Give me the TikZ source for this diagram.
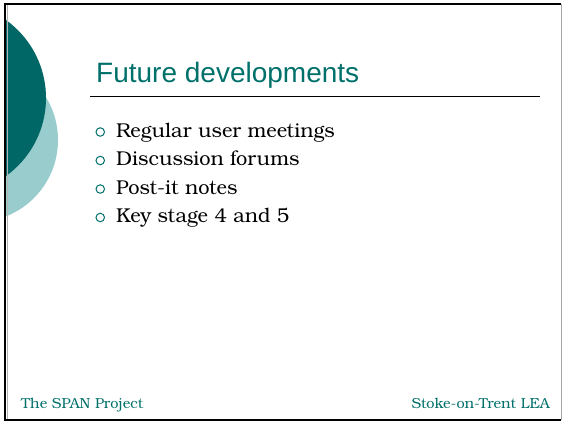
\documentclass[tikz,border=0pt]{standalone}
\usepackage{fontspec}
\setmainfont{TeX Gyre Bonum}
\setsansfont{Liberation Sans}
\usetikzlibrary{positioning}
\definecolor{darkteal}{RGB}{0,102,102}
\definecolor{lightteal}{RGB}{153,204,204}
\definecolor{textteal}{RGB}{0,112,106}
\tikzstyle{slidetitle} = [anchor=base west, 
inner sep=0pt, 
font=\sffamily\fontsize{28}{32}\selectfont, 
text=textteal]
\tikzstyle{item} = [anchor=base west, 
inner sep=0pt, 
text height=14pt, 
text depth=4pt, 
font=\fontsize{20}{24}\selectfont]
\tikzstyle{bullet} = [circle, 
draw=textteal, 
line width=1pt, 
minimum size=8.5pt, 
inner sep=0pt]
\tikzstyle{footer} = [inner sep=0pt, 
font=\fontsize{14.5}{17}\selectfont, 
text=textteal]

\begin{document}
\begin{tikzpicture}[x=1pt, y=-1pt]

\useasboundingbox (0,0) rectangle (565,424);

% side decoration
\begin{scope}
\clip (6,5) rectangle (560,419);
\fill [lightteal] (-24,140) circle (82);
\fill [darkteal] (-50,98) circle (96);
\end{scope}

% frame
\draw [gray!70, line width=1pt] (561,4) -- (561,420);
\draw [gray!60, line width=0.8pt] (7.5,5) -- (7.5,419);
\draw [black, line width=2pt] (561,4) -- (5,4) -- (5,420) -- (561,420);

\node (title) [slidetitle] at (96,82) {Future developments};
\draw [black, line width=0.8pt] (90,96) -- (540,96);

\node (i1) [item] at (116,137) {Regular user meetings};
\node (i2) [item] at (116,165.5) {Discussion forums};
\node (i3) [item] at (116,194) {Post-it notes};
\node (i4) [item] at (116,222.5) {Key stage 4 and 5};

\node (b1) [bullet, left=11pt of i1] {};
\node (b2) [bullet, left=11pt of i2] {};
\node (b3) [bullet, left=11pt of i3] {};
\node (b4) [bullet, left=11pt of i4] {};

\node (left) [footer, anchor=base west] at (21,408) {The SPAN Project};
\node (right) [footer, anchor=base east] at (550,408) {Stoke-on-Trent LEA};

\end{tikzpicture}
\end{document}
